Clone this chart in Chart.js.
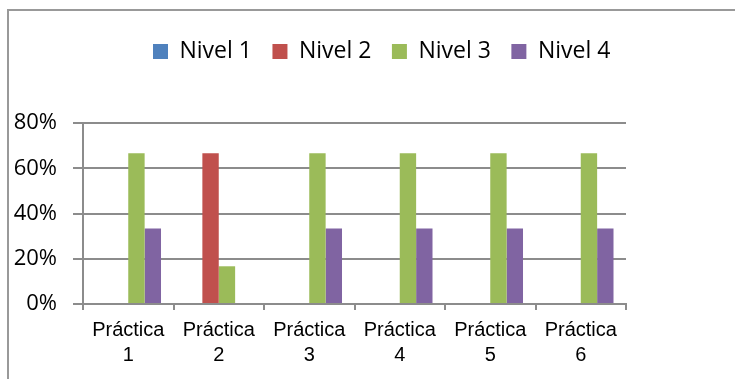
<!DOCTYPE html>
<html>
<head>
<meta charset="utf-8">
<script src="https://cdn.jsdelivr.net/npm/chart.js@4"></script>
<style>
  html, body { margin: 0; padding: 0; background: #fff; }
  #wrap { position: relative; width: 735px; height: 379px; overflow: hidden; }
  #frame {
    position: absolute; left: 7px; top: 9px; width: 760px; height: 400px;
    border-top: 2px solid #999; border-left: 2px solid #999;
  }
  canvas { position: absolute; left: 0; top: 0; }
</style>
</head>
<body>
<div id="wrap">
  <div id="frame"></div>
  <canvas id="chart" width="735" height="379"></canvas>
</div>
<script>
const categories = [["Práctica", "1"], ["Práctica", "2"], ["Práctica", "3"], ["Práctica", "4"], ["Práctica", "5"], ["Práctica", "6"]];
const nivel1 = [0, 0, 0, 0, 0, 0];
const nivel2 = [0, 66.67, 0, 0, 0, 0];
const nivel3 = [66.67, 16.67, 66.67, 66.67, 66.67, 66.67];
const nivel4 = [33.33, 0, 33.33, 33.33, 33.33, 33.33];
const seriesNames = ["Nivel 1", "Nivel 2", "Nivel 3", "Nivel 4"];
const seriesColors = ["#4F81BD", "#C0504D", "#9BBB59", "#8064A2"];
const yTicks = [0, 20, 40, 60, 80];

const gridColor = "#8c8c8c";

// Chart.js centres the legend over the whole width; the original sits further left
const legendPlace = {
  id: "legendPlace",
  afterLayout(chart) {
    const lg = chart.legend;
    const pad = lg.options.labels.padding;
    lg.left = 153 - pad;
    lg.right = 735;
    lg.top = 40 - pad;
  }
};

const datasets = [nivel1, nivel2, nivel3, nivel4].map((d, i) => ({
  label: seriesNames[i],
  data: d,
  backgroundColor: seriesColors[i],
  borderWidth: 0,
  barPercentage: 1,
  categoryPercentage: 0.724
}));

new Chart(document.getElementById("chart").getContext("2d"), {
  type: "bar",
  data: { labels: categories, datasets: datasets },
  plugins: [legendPlace],
  options: {
    responsive: false,
    animation: false,
    layout: { padding: { left: 0, right: 109, top: 69.5, bottom: 0 } },
    plugins: {
      tooltip: { enabled: false },
      legend: {
        position: "top",
        align: "start",
        labels: {
          boxWidth: 15,
          boxHeight: 15,
          padding: 20.5,
          color: "#000",
          font: { family: "'Open Sans'", size: 23 }
        }
      }
    },
    scales: {
      x: {
        grid: { drawOnChartArea: false, drawTicks: true, tickLength: 6, color: gridColor, lineWidth: 2 },
        border: { display: true, color: gridColor, width: 2 },
        ticks: {
          color: "#000",
          padding: 8,
          maxRotation: 0,
          autoSkip: false,
          font: { family: "'Liberation Sans'", size: 20, lineHeight: 1.25 }
        },
        afterFit(scale) { scale.height = 75; }
      },
      y: {
        min: 0,
        max: 80,
        afterBuildTicks(scale) { scale.ticks = yTicks.map(v => ({ value: v })); },
        grid: { color: gridColor, lineWidth: 2, tickLength: 10 },
        border: { display: true, color: gridColor, width: 2 },
        ticks: {
          color: "#000",
          padding: 16,
          font: { family: "'Open Sans'", size: 22 },
          callback: v => v + "%"
        },
        afterFit(scale) { scale.width = 83; }
      }
    }
  }
});
</script>
</body>
</html>
